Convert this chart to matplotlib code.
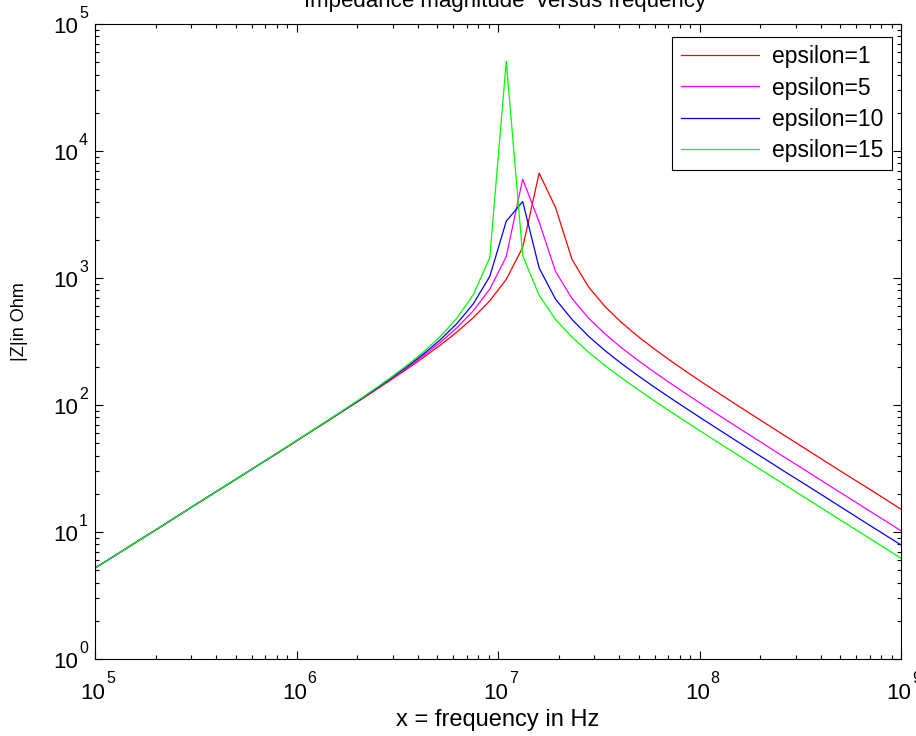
import matplotlib
matplotlib.use("Agg")
import matplotlib.pyplot as plt
from matplotlib.ticker import LogLocator, NullFormatter

plt.rcParams["font.family"] = ["Liberation Sans", "DejaVu Sans"]

# frequency samples (Hz)
freq = [1.000e5, 1.207e5, 1.456e5, 1.758e5, 2.121e5, 2.560e5, 3.089e5, 3.728e5,
        4.499e5, 5.429e5, 6.552e5, 7.907e5, 9.542e5,
        1.151e6, 1.390e6, 1.677e6, 2.024e6, 2.442e6, 2.947e6, 3.557e6, 4.292e6,
        5.180e6, 6.251e6, 7.544e6, 9.104e6,
        1.099e7, 1.326e7, 1.600e7, 1.931e7, 2.330e7, 2.812e7, 3.394e7, 4.095e7,
        4.942e7, 5.964e7, 7.197e7, 8.686e7,
        1.048e8, 1.265e8, 1.526e8, 1.842e8, 2.223e8, 2.683e8, 3.237e8, 3.907e8,
        4.715e8, 5.690e8, 6.866e8, 8.286e8, 1.000e9]

# |Z| in Ohm for each epsilon
z_eps1 = [5.20, 6.27, 7.57, 9.14, 11.0, 13.3, 16.1, 19.4, 23.4, 28.2, 34.1, 41.1, 49.6,
          60.2, 72.7, 88.1, 106.7, 129.7, 157.9, 193.3, 238.3, 296.7, 375.3, 487.6,
          661.6, 975.9, 1740, 6700, 3578, 1401, 852, 597, 447.2, 347.6, 276.4, 222.7,
          181.2, 148.3, 121.9, 100.4, 82.9, 68.5, 56.6, 46.9, 38.8, 32.1, 26.6, 22.1,
          18.3, 15.1]
z_eps5 = [5.20, 6.27, 7.57, 9.14, 11.0, 13.3, 16.1, 19.4, 23.4, 28.2, 34.1, 41.1, 49.8,
          60.3, 73.0, 88.5, 107.5, 131.0, 160.3, 197.6, 246.3, 311.8, 405.5, 551.9,
          817.6, 1477, 6000, 2764, 1123, 689, 484.5, 363.6, 283.1, 225.2, 181.7, 147.8,
          121.0, 99.4, 81.9, 67.6, 55.9, 46.2, 38.2, 31.7, 26.2, 21.7, 18.0, 14.9,
          12.35, 10.23]
z_eps10 = [5.20, 6.27, 7.57, 9.14, 11.0, 13.3, 16.1, 19.4, 23.4, 28.2, 34.1, 41.2, 49.9,
           60.4, 73.2, 88.8, 108.1, 132.2, 162.5, 201.7, 254.0, 327.0, 437.4, 627,
           1030, 2800, 4000, 1200, 680, 471.5, 348.2, 268.5, 212.3, 170.7, 138.5, 113.2,
           92.9, 76.5, 63.1, 52.1, 43.1, 35.7, 29.5, 24.5, 20.3, 16.8, 13.9, 11.5,
           9.54, 7.91]
z_eps15 = [5.20, 6.27, 7.57, 9.14, 11.0, 13.3, 16.1, 19.4, 23.4, 28.2, 34.1, 41.3, 50.0,
           60.5, 73.5, 89.3, 109.0, 133.7, 165.2, 206.8, 263.9, 347.2, 482.7, 740,
           1450, 51000, 1500, 730, 470, 342.6, 260.8, 204.6, 163.7, 132.5, 108.0, 88.5,
           72.8, 60.0, 49.6, 41.0, 33.9, 28.07, 23.23, 19.24, 15.94, 13.20, 10.94, 9.06,
           7.51, 6.22]

series_labels = ["epsilon=1", "epsilon=5", "epsilon=10", "epsilon=15"]
series_colors = ["#ff0000", "#ff00ff", "#0000ff", "#00ff00"]

x_decades = [5, 6, 7, 8, 9]
y_decades = [0, 1, 2, 3, 4, 5]

W, H = 916, 736
fig = plt.figure(figsize=(W / 100, H / 100), dpi=100)
fig.patch.set_facecolor("white")
ax = fig.add_axes([95 / W, 77 / H, 806 / W, 635 / H])

for z, lab, col in zip([z_eps1, z_eps5, z_eps10, z_eps15], series_labels, series_colors):
    ax.plot(freq, z, color=col, lw=0.9, label=lab)

ax.set_xscale("log")
ax.set_yscale("log")
ax.set_xlim(10.0 ** x_decades[0], 10.0 ** x_decades[-1])
ax.set_ylim(10.0 ** y_decades[0], 10.0 ** y_decades[-1])

for axis in (ax.xaxis, ax.yaxis):
    axis.set_major_locator(LogLocator(base=10, numticks=20))
    axis.set_minor_locator(LogLocator(base=10, subs=range(2, 10), numticks=50))
    axis.set_minor_formatter(NullFormatter())

ax.tick_params(which="both", direction="in", top=True, right=True, width=0.8,
               color="black", labelbottom=False, labelleft=False)
ax.tick_params(which="major", length=5.5)
ax.tick_params(which="minor", length=3)
for sp in ax.spines.values():
    sp.set_linewidth(0.8)
    sp.set_color("black")

# MATLAB-style decade labels: "10" with a raised exponent
for e in x_decades:
    ax.annotate("10", xy=(10.0 ** e, 0), xycoords=("data", "axes fraction"),
                xytext=(-2, -40), textcoords="offset pixels", ha="center",
                va="baseline", fontsize=16, annotation_clip=False)
    ax.annotate(str(e), xy=(10.0 ** e, 0), xycoords=("data", "axes fraction"),
                xytext=(11, -24), textcoords="offset pixels", ha="left",
                va="baseline", fontsize=11.5, annotation_clip=False)
for e in y_decades:
    ax.annotate("10", xy=(0, 10.0 ** e), xycoords=("axes fraction", "data"),
                xytext=(-17, -9), textcoords="offset pixels", ha="right",
                va="baseline", fontsize=16, annotation_clip=False)
    ax.annotate(str(e), xy=(0, 10.0 ** e), xycoords=("axes fraction", "data"),
                xytext=(-16, 6), textcoords="offset pixels", ha="left",
                va="baseline", fontsize=11.5, annotation_clip=False)

ax.set_xlabel("x = frequency in Hz", fontsize=17)
ax.xaxis.set_label_coords(0.5, -0.0787)
ax.set_ylabel("|Z|in Ohm", fontsize=13)
ax.yaxis.set_label_coords(-0.083, 0.532)

fig.text(505 / W, 1 - 7 / H, "Impedance magnitude  versus frequency",
         ha="center", va="baseline", fontsize=16)

leg = ax.legend(loc="upper right", bbox_to_anchor=(892 / W, (H - 37) / H),
                bbox_transform=fig.transFigure, borderaxespad=0, fontsize=16.5,
                handlelength=3.4, handletextpad=0.6, labelspacing=0.36, borderpad=0.36,
                fancybox=False, framealpha=1, edgecolor="black")
leg.get_frame().set_linewidth(0.8)

fig.savefig("out.png", dpi=100, facecolor="white")
